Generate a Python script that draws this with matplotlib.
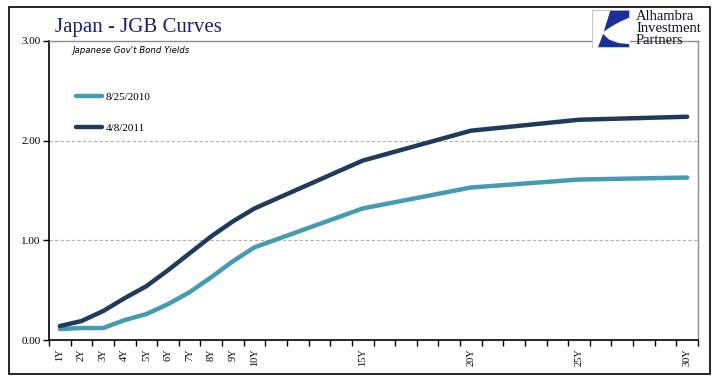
import matplotlib
matplotlib.use("Agg")
import matplotlib.pyplot as plt
from matplotlib.patches import Rectangle, Polygon

# --- Data ---
tenors = [1, 2, 3, 4, 5, 6, 7, 8, 9, 10, 15, 20, 25, 30]
tenor_labels = [f"{t}Y" for t in tenors]
yields_2010 = [0.11, 0.12, 0.12, 0.20, 0.26, 0.36, 0.48, 0.63, 0.79, 0.93, 1.32, 1.53, 1.61, 1.63]
yields_2011 = [0.14, 0.19, 0.29, 0.42, 0.54, 0.70, 0.87, 1.04, 1.19, 1.32, 1.80, 2.10, 2.21, 2.24]
series_names = ["8/25/2010", "4/8/2011"]
y_ticks = [0.0, 1.0, 2.0, 3.0]

light = "#469BB4"
dark = "#1E3A5C"
serif = "Liberation Serif"

# --- Figure ---
W, H = 721, 381
fig = plt.figure(figsize=(W / 100, H / 100), dpi=100)
ax = fig.add_axes([49 / W, 1 - 340 / H, (698 - 49) / W, (340 - 41) / H])

l1, = ax.plot(tenors, yields_2010, color=light, lw=3.2, solid_capstyle="round",
              solid_joinstyle="round", label=series_names[0])
l2, = ax.plot(tenors, yields_2011, color=dark, lw=3.2, solid_capstyle="round",
              solid_joinstyle="round", label=series_names[1])

ax.set_xlim(0.5, 30.5)
ax.set_ylim(0, 3)

# y axis
ax.set_yticks(y_ticks)
ax.set_yticklabels([f"{v:.2f}" for v in y_ticks], fontfamily=serif, fontsize=8)
ax.tick_params(axis="y", direction="out", length=4, width=1, pad=2)
for v in y_ticks[1:3]:
    ax.axhline(v, color="#b0b0b0", lw=0.8, ls=(0, (3, 2)), zorder=0)

# x axis: labels at tenors, tick marks on category boundaries
ax.set_xticks(tenors)
ax.set_xticklabels(tenor_labels, rotation=90, fontfamily=serif, fontsize=7.5)
ax.set_xticks([i + 0.5 for i in range(0, 31)], minor=True)
ax.tick_params(axis="x", which="major", length=0, pad=6)
ax.tick_params(axis="x", which="minor", direction="out", length=4, width=1)

for side in ("left", "bottom"):
    ax.spines[side].set_color("black")
    ax.spines[side].set_linewidth(1.2)
for side in ("top", "right"):
    ax.spines[side].set_color("#8c8c8c")
    ax.spines[side].set_linewidth(1.0)

# legend
ax.legend(handles=[l1, l2], loc="upper left", frameon=False,
          bbox_to_anchor=(76 / W, 1 - 92 / H), bbox_transform=fig.transFigure,
          borderaxespad=0, borderpad=0, handlelength=2.3, handletextpad=0.35,
          labelspacing=1.95, prop={"family": serif, "size": 8})

# titles
fig.text(55 / W, 1 - 32 / H, "Japan - JGB Curves", fontfamily=serif, fontsize=15,
         color="#1c1c84", va="baseline")
fig.text(72 / W, 1 - 53 / H, "Japanese Gov't Bond Yields", fontfamily="DejaVu Sans",
         style="italic", fontsize=6.2, color="black", va="baseline")

# logo
lax = fig.add_axes([592 / W, 1 - 48 / H, 38 / W, 38 / H])
lax.set_xlim(0, 1)
lax.set_ylim(0, 1)
lax.axis("off")
lax.add_patch(Rectangle((0, 0), 1, 1, facecolor="white", edgecolor="#c8c8c8", lw=0.8))
lax.add_patch(Polygon([(0.48, 0.98), (0.98, 0.98), (0.98, 0.8), (0.75, 0.7),
                       (0.5, 0.56), (0.31, 0.43)], closed=True,
                      facecolor="#1a2f9a", edgecolor="none"))
lax.add_patch(Polygon([(0.29, 0.37), (0.45, 0.22), (0.7, 0.13), (0.98, 0.1),
                       (0.98, 0.02), (0.16, 0.02)], closed=True,
                      facecolor="#1a2f9a", edgecolor="none"))
for i, word in enumerate(["Alhambra", "Investment", "Partners"]):
    fig.text(636 / W, 1 - (20 + 12 * i) / H, word, fontfamily=serif, fontsize=10.5,
             color="#111122", va="baseline")

# outer frame
fig.patches.append(Rectangle((9 / W, 1 - 374 / H), (710 - 9) / W, (374 - 7) / H,
                             transform=fig.transFigure, fill=False,
                             edgecolor="black", lw=1.2))

fig.savefig("out.png", dpi=100)
